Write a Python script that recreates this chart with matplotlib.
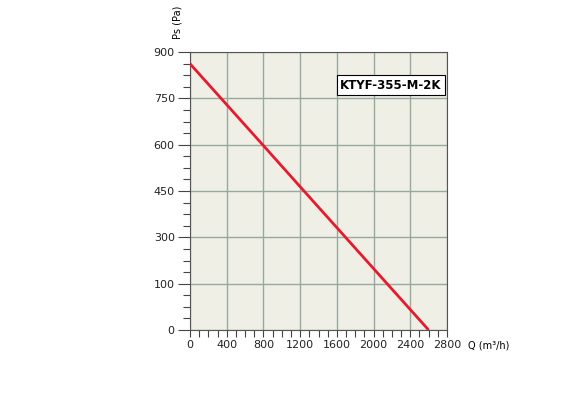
import matplotlib
matplotlib.use("Agg")
import matplotlib.pyplot as plt
from matplotlib.ticker import MultipleLocator

# fan curve KTYF-355-M-2K
flow = [0, 800, 1200, 2600]
pressure = [862, 597, 464, 0]

x_ticks = [0, 400, 800, 1200, 1600, 2000, 2400, 2800]
y_ticks = [0, 150, 300, 450, 600, 750, 900]
y_labels = ["0", "100", "300", "450", "600", "750", "900"]

plt.rcParams['font.family'] = ['DejaVu Sans']

fig = plt.figure(figsize=(5.85, 4.17), dpi=100)
ax = fig.add_axes([0.3248, 0.2086, 0.4393, 0.6667])
ax.set_facecolor("#f0efe6")

ax.plot(flow, pressure, color="#e8192c", lw=2, zorder=3, solid_capstyle="butt")

ax.set_xlim(0, 2800)
ax.set_ylim(0, 900)
ax.set_xticks(x_ticks)
ax.set_yticks(y_ticks)
ax.set_yticklabels(y_labels)
ax.xaxis.set_minor_locator(MultipleLocator(100))
ax.yaxis.set_minor_locator(MultipleLocator(37.5))
ax.grid(True, which="major", color="#97a89f", lw=1)
ax.tick_params(which="major", direction="out", length=5, width=0.8, color="#444444",
               labelsize=8, pad=2, labelcolor="#222222")
ax.tick_params(which="minor", direction="out", length=5, width=0.8, color="#444444")
ax.tick_params(axis="y", which="major", length=9)
for s in ax.spines.values():
    s.set_color("#555555")
    s.set_linewidth(0.8)

ax.text(2190, 793, "KTYF-355-M-2K", fontsize=8.5, fontweight="bold", ha="center", va="center",
        bbox=dict(facecolor="white", edgecolor="black", lw=0.8, pad=2.5), zorder=4)

fig.text(178 / 585, 1 - 22 / 417, "Ps (Pa)", rotation=90, fontsize=7, ha="center", va="center")
fig.text(468 / 585, 1 - 346 / 417, "Q (m³/h)", fontsize=7, ha="left", va="center")

fig.savefig("out.png", dpi=100)
